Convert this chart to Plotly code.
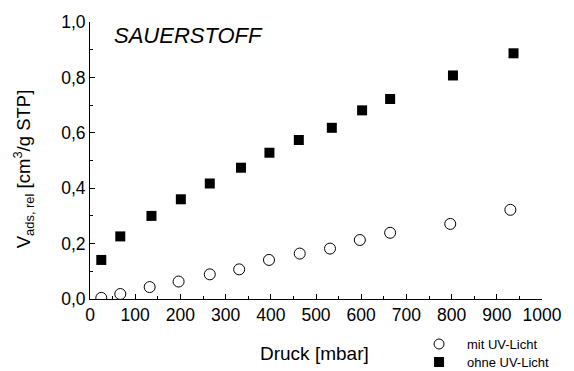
import plotly.graph_objects as go

# Pressure in mbar and relative adsorbed volume (cm^3/g STP)
druck_ohne = [25, 67, 136, 201, 265, 334, 397, 462, 535, 602, 664, 803, 937]
vads_ohne = [0.141, 0.226, 0.300, 0.360, 0.417, 0.474, 0.528, 0.574, 0.618, 0.681, 0.722, 0.807, 0.887]

druck_mit = [25, 67, 132, 196, 265, 330, 396, 464, 531, 597, 664, 797, 930]
vads_mit = [0.004, 0.018, 0.043, 0.063, 0.089, 0.107, 0.141, 0.164, 0.182, 0.213, 0.239, 0.271, 0.322]

FONT = "Liberation Sans, Arial, sans-serif"
W, H = 574, 371
L, R, T, B = 90, 23, 22, 72
PW, PH = W - L - R, H - T - B


def px(xp):
    """Horizontal pixel position -> paper coordinate."""
    return (xp - L) / PW


def py(yp):
    """Vertical pixel position (from top) -> paper coordinate."""
    return (H - B - yp) / PH


fig = go.Figure()
fig.add_trace(go.Scatter(
    x=druck_mit, y=vads_mit, mode="markers", name="mit UV-Licht", showlegend=False,
    marker=dict(symbol="circle-open", size=11, color="black", line=dict(width=1, color="black")),
))
fig.add_trace(go.Scatter(
    x=druck_ohne, y=vads_ohne, mode="markers", name="ohne UV-Licht", showlegend=False,
    marker=dict(symbol="square", size=10, color="black"),
))

axis_common = dict(
    showgrid=False, zeroline=False, showline=True, linecolor="black", linewidth=1,
    ticks="inside", ticklen=5, tickwidth=1, tickcolor="black",
    tickfont=dict(family=FONT, size=17.5, color="black"),
    mirror=False,
)

# key in the lower right corner: symbol shapes plus text labels
key_rows = [("mit UV-Licht", "circle", 344), ("ohne UV-Licht", "rect", 362)]
shapes, annotations = [], []
for label, kind, ypix in key_rows:
    if kind == "circle":
        shapes.append(dict(type="circle", xref="paper", yref="paper",
                           xsizemode="pixel", ysizemode="pixel",
                           xanchor=px(446), yanchor=py(ypix), x0=-5, x1=5, y0=-5, y1=5,
                           line=dict(color="black", width=1), fillcolor="rgba(0,0,0,0)"))
    else:
        shapes.append(dict(type="rect", xref="paper", yref="paper",
                           xsizemode="pixel", ysizemode="pixel",
                           xanchor=px(446), yanchor=py(ypix), x0=-5, x1=5, y0=-5, y1=5,
                           line=dict(color="black", width=0), fillcolor="black"))
    annotations.append(dict(text=label, x=px(472), y=py(ypix), xref="paper", yref="paper",
                            xanchor="left", yanchor="middle", showarrow=False,
                            font=dict(family=FONT, size=13)))

annotations.append(dict(
    text="<i>SAUERSTOFF</i>", x=px(112), y=py(35), xref="paper", yref="paper",
    xanchor="left", yanchor="middle", showarrow=False, font=dict(family=FONT, size=22),
))
annotations.append(dict(
    text="Druck [mbar]", x=px(319), y=py(353), xref="paper", yref="paper",
    xanchor="center", yanchor="middle", showarrow=False, font=dict(family=FONT, size=19),
))
annotations.append(dict(
    text="V<sub>ads, rel</sub> [cm<sup>3</sup>/g STP]", x=px(22), y=py(169),
    xref="paper", yref="paper", xanchor="center", yanchor="middle", textangle=-90,
    showarrow=False, font=dict(family=FONT, size=18.5),
))

fig.update_layout(
    width=W, height=H,
    margin=dict(l=L, r=R, t=T, b=B),
    paper_bgcolor="white", plot_bgcolor="white",
    separators=", ",
    showlegend=False,
    font=dict(family=FONT, color="black"),
    xaxis=dict(
        range=[0, 1000], tickvals=[0, 100, 200, 300, 400, 500, 600, 700, 800, 900, 1000],
        minor=dict(ticks="inside", ticklen=3, dtick=50, tickcolor="black"),
        **axis_common,
    ),
    yaxis=dict(
        range=[0, 1.0], tickvals=[0, 0.2, 0.4, 0.6, 0.8, 1.0], tickformat=".1f",
        minor=dict(ticks="inside", ticklen=3, dtick=0.1, tickcolor="black"),
        **axis_common,
    ),
    shapes=shapes,
    annotations=annotations,
)

fig.write_html("out.html")
